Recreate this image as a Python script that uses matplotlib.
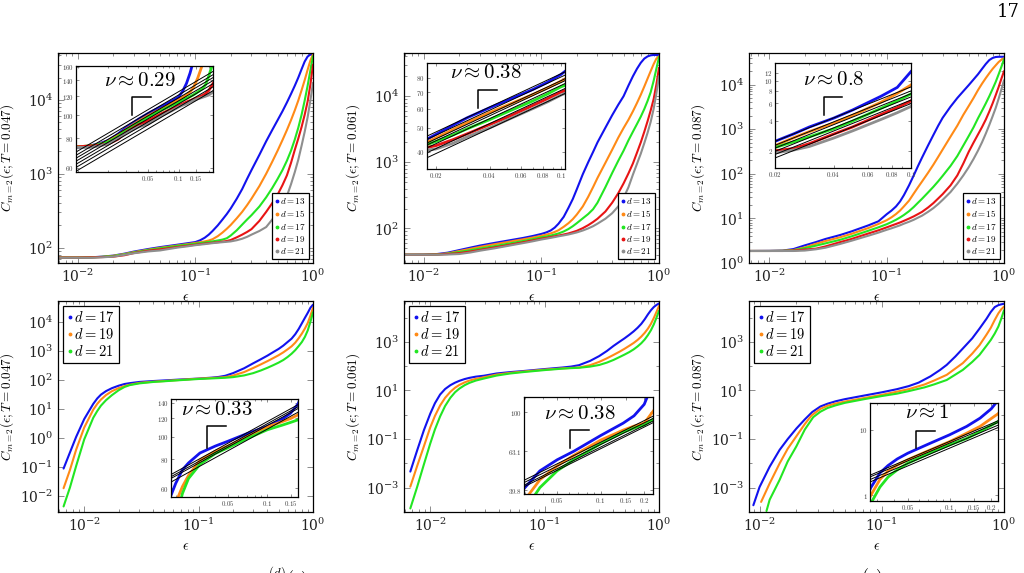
import matplotlib
matplotlib.use("Agg")
import matplotlib.pyplot as plt
from matplotlib import ticker
from matplotlib.lines import Line2D
import numpy as np

plt.rcParams["mathtext.fontset"] = "cm"
plt.rcParams["font.family"] = ["DejaVu Serif"]

# --- data ---
EPS_TOP = [0.0068, 0.01, 0.013, 0.016, 0.02, 0.025, 0.03, 0.04, 0.05, 0.07, 0.085, 0.1, 0.11, 0.12,
           0.13, 0.14, 0.155, 0.17, 0.185, 0.2, 0.225, 0.25, 0.275, 0.3, 0.35, 0.4, 0.45, 0.5,
           0.55, 0.6, 0.65, 0.7, 0.75, 0.8, 0.85, 0.9, 0.95, 1.0]
D_TOP = [13, 15, 17, 19, 21]
D_BOT = [17, 19, 21]

# T = 0.047, top
A13 = [73, 73, 74, 75.5, 78, 83, 88.5, 96, 101.6, 109.5, 114.5, 119, 126, 136, 150, 168, 200, 240, 285, 340,
       460, 620, 850, 1120, 1800, 2750, 3900, 5300, 7000, 9200, 12000, 15500, 20000, 26000, 33000, 38500, 41000, 42000]
A15 = [73.5, 73.5, 74, 75, 77.5, 82, 87, 94, 99.4, 107, 111.5, 115.7, 118.5, 121.5, 125, 130, 143, 160, 180, 203,
       250, 305, 375, 460, 680, 1000, 1450, 2050, 2850, 3900, 5300, 7200, 9800, 13500, 18500, 25500, 34000, 41000]
A17 = [73.5, 73.5, 74, 75, 77, 81, 86, 93, 97.8, 105.5, 109.5, 113, 115.5, 117.5, 119.5, 121.5, 125, 128.5, 134, 146,
       172, 205, 240, 275, 360, 480, 640, 850, 1120, 1500, 2050, 2900, 4200, 6300, 9800, 15500, 25000, 39000]
A19 = [73.5, 73.5, 74, 74.5, 75.5, 79, 84.5, 91, 94.7, 102, 106, 109.5, 111.5, 113.5, 115, 116.5, 118.5, 120.5, 123, 127,
       138, 150, 163, 178, 230, 305, 400, 520, 700, 950, 1400, 2100, 3000, 4300, 6300, 9500, 16000, 30000]
A21 = [73, 73, 73, 74, 75.5, 80, 84, 89, 91.6, 100, 104, 108, 110, 111.5, 113.5, 115, 117, 118.5, 120, 121.5,
       126, 132, 140, 150, 168, 190, 240, 300, 380, 500, 720, 1050, 1550, 2400, 3700, 5800, 9800, 17000]

# T = 0.061, top
B13 = [40, 40.2, 41, 43, 47, 51.3, 55, 60.4, 64.7, 71.8, 77, 82.5, 87, 93, 103, 118, 150, 205, 278, 390,
       660, 1000, 1430, 2000, 3330, 5160, 7400, 10000, 14500, 20000, 26000, 32000, 37000, 40000, 41500, 42000, 42000, 42000]
B15 = [40, 40, 40.5, 42, 45.5, 49.2, 52.5, 57.7, 61.8, 68.5, 73, 77.5, 80.5, 84, 88.5, 94, 106, 120, 138, 162,
       215, 300, 420, 580, 980, 1550, 2350, 3300, 4400, 5900, 7900, 10500, 14000, 18500, 24000, 30500, 37000, 40000]
B17 = [40, 40, 40.3, 41.5, 44, 46.8, 49.6, 54, 58, 64.5, 69, 73.5, 75.5, 78, 81, 84, 90, 98, 108, 120,
       142, 165, 195, 245, 420, 690, 1050, 1500, 2150, 2900, 3800, 4900, 6400, 8500, 11500, 17000, 26000, 39000]
B19 = [40, 40, 40.2, 41, 42.3, 44.8, 47.3, 51.6, 55.2, 61.8, 66, 70, 72, 74, 76, 78, 81, 84, 88, 92,
       101, 112, 125, 140, 180, 245, 340, 480, 680, 960, 1400, 2000, 2900, 4200, 6100, 9000, 15000, 27000]
B21 = [40, 40, 40, 40.3, 41, 43.3, 46, 50, 53.8, 60, 64, 68, 70, 72, 74, 76, 78.5, 81, 84, 87,
       93, 100, 108, 118, 140, 170, 215, 290, 420, 650, 950, 1350, 1950, 2800, 4100, 6400, 11000, 20000]

# T = 0.087, top
C13 = [1.86, 1.87, 1.9, 2.05, 2.48, 2.95, 3.45, 4.23, 5.1, 7.0, 8.6, 12.4, 15, 18.5, 24, 33, 55, 92, 150, 230,
       430, 740, 1200, 1800, 3200, 5000, 7100, 9700, 13000, 17000, 22500, 29000, 35500, 39500, 41500, 42000, 42000, 42000]
C15 = [1.86, 1.86, 1.88, 1.95, 2.24, 2.7, 3.1, 3.77, 4.5, 6.1, 7.5, 9.1, 10.6, 12.5, 15, 18.5, 25, 36, 50, 67,
       105, 160, 240, 350, 680, 1200, 2100, 3300, 5000, 7500, 10500, 14000, 18000, 22500, 27000, 32000, 36000, 38500]
C17 = [1.86, 1.86, 1.87, 1.92, 2.15, 2.45, 2.75, 3.31, 3.95, 5.3, 6.3, 7.4, 8.3, 9.3, 10.5, 11.9, 14.5, 18, 22.5, 27.5,
       38, 51, 68, 90, 150, 250, 430, 700, 1100, 1750, 2600, 3800, 5500, 8000, 11500, 17000, 25000, 37000]
C19 = [1.86, 1.86, 1.86, 1.9, 2.0, 2.1, 2.35, 2.93, 3.45, 4.6, 5.4, 6.3, 6.9, 7.5, 8.1, 8.8, 9.9, 11.1, 12.5, 14,
       17.5, 22, 28, 35, 55, 92, 170, 310, 500, 760, 1120, 1650, 2500, 3800, 5800, 8800, 13500, 20000]
C21 = [1.86, 1.86, 1.86, 1.86, 1.9, 2.03, 2.2, 2.67, 3.15, 4.1, 4.8, 5.55, 6.0, 6.5, 7.0, 7.6, 8.4, 9.3, 10.4, 11.5,
       14, 17, 21, 26, 39, 60, 92, 140, 215, 330, 510, 800, 1250, 1950, 3000, 4800, 7800, 12500]

# T = 0.047, bottom
D_X = [0.0066, 0.0075, 0.0085, 0.01, 0.012, 0.013, 0.014, 0.0155, 0.0175, 0.02, 0.0225, 0.025, 0.0306, 0.04,
       0.05, 0.07, 0.1, 0.13, 0.15, 0.171, 0.2, 0.25, 0.3, 0.35, 0.4, 0.45, 0.5, 0.55, 0.6, 0.65, 0.7, 0.75,
       0.8, 0.85, 0.9, 0.95, 1.0]
D17_Y = [0.09, 0.32, 1.1, 4.5, 15, 23, 31, 41, 52, 63, 72, 77, 85, 91, 95.5, 103, 110.7, 119, 126, 138,
         170, 250, 370, 510, 680, 900, 1150, 1500, 2000, 2600, 3700, 5600, 8800, 13500, 20000, 30000, 38000]
D19_Y = [0.019, 0.08, 0.4, 2.3, 9.5, 15, 21, 30, 41, 52, 61, 68, 79, 86.5, 91, 100, 110, 116, 119.5, 124,
         140, 185, 255, 340, 440, 560, 700, 880, 1120, 1420, 1900, 2700, 3900, 5800, 9000, 16000, 30000]
D21_Y = [0.0045, 0.02, 0.11, 0.9, 5, 8.5, 13, 20, 30, 44, 57, 66, 76, 84.5, 89.5, 98, 107, 112, 115, 118,
         124, 142, 170, 210, 260, 320, 390, 480, 610, 790, 1050, 1450, 2000, 3000, 5000, 10000, 21000]

# T = 0.061, bottom
E_X = [0.0067, 0.0077, 0.0088, 0.01, 0.011, 0.0122, 0.0135, 0.015, 0.0165, 0.018, 0.02, 0.022, 0.025, 0.0295,
       0.038, 0.05, 0.065, 0.1, 0.143, 0.17, 0.2, 0.25, 0.3, 0.35, 0.4, 0.45, 0.5, 0.55, 0.6, 0.65, 0.7, 0.75,
       0.8, 0.85, 0.9, 0.95, 1.0]
E17_Y = [0.0046, 0.035, 0.23, 1.1, 3.0, 6.8, 11.5, 16.5, 21, 25, 29.5, 33, 37, 40.5, 50, 57, 63, 76, 88, 96,
         110, 165, 260, 420, 680, 1000, 1400, 1950, 2700, 3800, 5500, 8500, 13500, 20000, 27000, 33000, 38000]
E19_Y = [0.0011, 0.008, 0.05, 0.3, 0.9, 2.4, 5, 8.8, 13, 17, 21.5, 25.5, 30, 35, 45, 53, 60, 72, 81, 85,
         88, 110, 150, 210, 290, 390, 520, 690, 900, 1200, 1650, 2350, 3500, 5500, 9500, 17000, 30000]
E21_Y = [1.4e-4, 1.1e-3, 0.009, 0.065, 0.25, 0.85, 2.3, 5, 8.5, 12, 16.5, 20.5, 25.5, 31, 41, 50, 57, 69, 79, 83,
         86, 96, 112, 140, 180, 235, 300, 380, 490, 650, 880, 1250, 1900, 3000, 5200, 9800, 19000]

# T = 0.087, bottom
F17_X = [0.0089, 0.01, 0.0121, 0.0146, 0.017, 0.02, 0.0235, 0.027, 0.0315, 0.036, 0.042, 0.05, 0.072, 0.1,
         0.133, 0.166, 0.2, 0.25, 0.3, 0.34, 0.4, 0.46, 0.55, 0.63, 0.72, 0.78, 0.84, 0.9, 0.95, 1.0]
F17_Y = [1.9e-4, 1.06e-3, 0.0073, 0.036, 0.1, 0.27, 0.65, 1.3, 2.2, 2.85, 3.6, 4.4, 6.2, 8.4, 11.3, 15.1,
         21, 38, 70, 113, 250, 530, 1400, 3500, 9000, 17000, 27000, 32500, 35000, 37000]
F19_X = [0.0103, 0.0121, 0.0146, 0.017, 0.02, 0.0235, 0.0267, 0.0315, 0.036, 0.042, 0.05, 0.072, 0.1, 0.133,
         0.166, 0.2235, 0.27, 0.34, 0.4, 0.46, 0.55, 0.63, 0.72, 0.78, 0.84, 0.9, 0.95, 1.0]
F19_Y = [2.6e-4, 1.5e-3, 0.01, 0.04, 0.13, 0.42, 0.95, 1.75, 2.35, 2.9, 3.5, 4.9, 6.6, 8.9, 11.3, 17.6,
         26, 44, 80, 133, 330, 730, 2000, 3800, 8000, 15000, 22000, 28000]
F21_X = [0.0114, 0.0121, 0.0146, 0.017, 0.02, 0.0235, 0.0275, 0.0315, 0.036, 0.042, 0.05, 0.072, 0.1, 0.133,
         0.166, 0.2235, 0.27, 0.34, 0.4, 0.46, 0.55, 0.63, 0.72, 0.78, 0.84, 0.9, 0.95, 1.0]
F21_Y = [1.1e-4, 3.2e-4, 0.0021, 0.012, 0.05, 0.25, 0.8, 1.34, 1.9, 2.45, 3.1, 4.4, 5.9, 7.4, 9.4, 13.4,
         18, 27, 45, 70, 150, 290, 700, 1200, 2200, 4300, 9000, 20000]

# power-law fit lines in the insets: amplitudes and exponent
FIT_A = [185, 192, 198, 204, 210, 216, 223]
FIT_B = [181.8, 176.3, 170.4, 167.3, 162.9, 155.5, 148.4]
FIT_C = [52.4, 47.8, 44.8, 41.6, 38.7, 35.7]
FIT_D = [237, 232, 228, 220]
FIT_E = [164.6, 160.2, 155.4, 152.4]
FIT_F = [52.9, 49.8, 45.4, 41.7]
SLOPES = [0.25, 0.34, 0.78, 0.31, 0.37, 0.9]
NU_LABELS = ["0.29", "0.38", "0.8", "0.33", "0.38", "1"]
TEMPS = ["0.047", "0.061", "0.087", "0.047", "0.061", "0.087"]

# --- style ---
W, H = 1024, 573
COLORS = ["#1212ee", "#ff8a16", "#22e622", "#e81414", "#8e8e8e"]
TICK_COLOR = "#7a7a7a"


def px_rect(l, r, t, b):
    return [l / W, 1 - b / H, (r - l) / W, (b - t) / H]


PANELS = [
    dict(rect=px_rect(58, 313, 53, 263), inset=px_rect(76, 213, 66, 172),
         curves=[(EPS_TOP, A13), (EPS_TOP, A15), (EPS_TOP, A17), (EPS_TOP, A19), (EPS_TOP, A21)],
         ds=D_TOP, xlim=(0.0068, 1.0), ylim=(62, 43000), yticks=[1e2, 1e3, 1e4], yminor="sub",
         ixlim=(0.0096, 0.22), iylim=(57.5, 161), ixt=[0.05, 0.1, 0.15], iyt=[60, 80, 100, 120, 140, 160],
         iyl=None, fits=FIT_A, gamma=(0.41, 0.55, 0.71, 0.54), nupos=(0.47, 0.86)),
    dict(rect=px_rect(404, 659, 53, 263), inset=px_rect(427, 565, 63, 169),
         curves=[(EPS_TOP, B13), (EPS_TOP, B15), (EPS_TOP, B17), (EPS_TOP, B19), (EPS_TOP, B21)],
         ds=D_TOP, xlim=(0.0068, 1.0), ylim=(30, 45000), yticks=[1e2, 1e3, 1e4], yminor="sub",
         ixlim=(0.0179, 0.1056), iylim=(34, 92), ixt=[0.02, 0.04, 0.06, 0.08, 0.1], iyt=[40, 50, 60, 70, 80],
         iyl=None, fits=FIT_B, gamma=(0.372, 0.505, 0.748, 0.575), nupos=(0.43, 0.91)),
    dict(rect=px_rect(749, 1004, 53, 263), inset=px_rect(775, 911, 63, 168),
         curves=[(EPS_TOP, C13), (EPS_TOP, C15), (EPS_TOP, C17), (EPS_TOP, C19), (EPS_TOP, C21)],
         ds=D_TOP, xlim=(0.0067, 1.0), ylim=(1.0, 51000), yticks=[1, 1e1, 1e2, 1e3, 1e4], yminor="sub",
         ixlim=(0.02, 0.1), iylim=(1.34, 15.1), ixt=[0.02, 0.04, 0.06, 0.08, 0.1], iyt=[2, 4, 6, 8, 10, 12],
         iyl=None, fits=FIT_C, gamma=(0.36, 0.49, 0.673, 0.508), nupos=(0.43, 0.84)),
    dict(rect=px_rect(58, 313, 301, 512), inset=px_rect(171, 298, 399, 497),
         curves=[(D_X, D17_Y), (D_X, D19_Y), (D_X, D21_Y)],
         ds=D_BOT, xlim=(0.0059, 1.0), ylim=(0.0029, 51000),
         yticks=[1e-2, 1e-1, 1, 1e1, 1e2, 1e3, 1e4], yminor="dec",
         ixlim=(0.0184, 0.171), iylim=(55, 145), ixt=[0.05, 0.1, 0.15], iyt=[60, 80, 100, 120, 140],
         iyl=None, fits=FIT_D, gamma=(0.287, 0.433, 0.72, 0.50), nupos=(0.36, 0.89)),
    dict(rect=px_rect(404, 659, 301, 512), inset=px_rect(524, 653, 397, 494),
         curves=[(E_X, E17_Y), (E_X, E19_Y), (E_X, E21_Y)],
         ds=D_BOT, xlim=(0.0059, 1.0), ylim=(1e-4, 48000), yticks=[1e-3, 1e-1, 1e1, 1e3], yminor="dec",
         ixlim=(0.0295, 0.23), iylim=(38, 120), ixt=[0.05, 0.1, 0.15, 0.2], iyt=[39.8, 63.1, 100],
         iyl=["39.8", "63.1", "100"], fits=FIT_E, gamma=(0.356, 0.506, 0.655, 0.472), nupos=(0.434, 0.834)),
    dict(rect=px_rect(749, 1004, 301, 512), inset=px_rect(870, 998, 403, 501),
         curves=[(F17_X, F17_Y), (F19_X, F19_Y), (F21_X, F21_Y)],
         ds=D_BOT, xlim=(0.0082, 1.0), ylim=(1e-4, 48000), yticks=[1e-3, 1e-1, 1e1, 1e3], yminor="dec",
         ixlim=(0.0267, 0.2235), iylim=(0.82, 25.7), ixt=[0.05, 0.1, 0.15, 0.2], iyt=[1, 10],
         iyl=None, fits=FIT_F, gamma=(0.36, 0.509, 0.719, 0.538), nupos=(0.444, 0.907)),
]


def style_common(ax, labelsize, major_len, minor_len):
    ax.tick_params(which="both", direction="in", top=True, right=True,
                   color=TICK_COLOR, labelcolor="#222222", width=0.6)
    ax.tick_params(which="major", length=major_len, labelsize=labelsize)
    ax.tick_params(which="minor", length=minor_len)
    for sp in ax.spines.values():
        sp.set_linewidth(0.9)
        sp.set_color("black")


fig = plt.figure(figsize=(W / 100, H / 100), dpi=100)

for i, p in enumerate(PANELS):
    ax = fig.add_axes(p["rect"])
    ax.set_xscale("log")
    ax.set_yscale("log")
    for (x, y), c in zip(p["curves"], COLORS):
        ax.plot(x, y, color=c, lw=1.5, solid_capstyle="round", solid_joinstyle="round")
    ax.set_xlim(*p["xlim"])
    ax.set_ylim(*p["ylim"])
    ax.xaxis.set_major_locator(ticker.FixedLocator([1e-2, 1e-1, 1.0]))
    ax.xaxis.set_major_formatter(ticker.LogFormatterMathtext())
    ax.xaxis.set_minor_locator(ticker.LogLocator(base=10, subs=np.arange(2, 10), numticks=20))
    ax.xaxis.set_minor_formatter(ticker.NullFormatter())
    ax.yaxis.set_major_locator(ticker.FixedLocator(p["yticks"]))
    ax.yaxis.set_major_formatter(ticker.LogFormatterMathtext())
    if p["yminor"] == "sub":
        ax.yaxis.set_minor_locator(ticker.LogLocator(base=10, subs=np.arange(2, 10), numticks=20))
    else:
        ax.yaxis.set_minor_locator(ticker.LogLocator(base=10, subs=(1.0,), numticks=20))
    ax.yaxis.set_minor_formatter(ticker.NullFormatter())
    style_common(ax, 10, 4, 2)
    ax.set_xlabel(r"$\epsilon$", fontsize=10)
    ax.xaxis.set_label_coords(0.5, -0.13)
    ax.set_ylabel(r"$C_{m=2}(\epsilon;T=%s)$" % TEMPS[i], fontsize=9.5)
    ax.yaxis.set_label_coords(-0.165, 0.5)

    handles = [Line2D([], [], ls="none", marker=".", ms=3.5, color=c) for c in COLORS[:len(p["ds"])]]
    labels = [r"$d=%d$" % d for d in p["ds"]]
    if len(p["ds"]) == 5:
        leg = ax.legend(handles, labels, loc="lower right", fontsize=6.5, handlelength=0.4,
                        handletextpad=0.2, borderpad=0.35, labelspacing=0.25, borderaxespad=0.4,
                        fancybox=False, framealpha=1, edgecolor="black")
    else:
        leg = ax.legend(handles, labels, loc="upper left", fontsize=10.5, handlelength=0.3,
                        handletextpad=0.15, borderpad=0.3, labelspacing=0.12, borderaxespad=0.35,
                        fancybox=False, framealpha=1, edgecolor="black")
    leg.get_frame().set_linewidth(0.9)

    # inset
    ia = fig.add_axes(p["inset"])
    ia.set_xscale("log")
    ia.set_yscale("log")
    for (x, y), c in zip(p["curves"], COLORS):
        ia.plot(x, y, color=c, lw=2.0, solid_capstyle="round", solid_joinstyle="round")
    xf = np.array(p["ixlim"])
    for amp in p["fits"]:
        ia.plot(xf, amp * xf ** SLOPES[i], color="black", lw=0.7, zorder=4)
    ia.set_xlim(*p["ixlim"])
    ia.set_ylim(*p["iylim"])
    ia.xaxis.set_major_locator(ticker.FixedLocator(p["ixt"]))
    ia.xaxis.set_major_formatter(ticker.FixedFormatter(["$%g$" % v for v in p["ixt"]]))
    ia.xaxis.set_minor_locator(ticker.LogLocator(base=10, subs=np.arange(1, 10), numticks=20))
    ia.xaxis.set_minor_formatter(ticker.NullFormatter())
    ia.yaxis.set_major_locator(ticker.FixedLocator(p["iyt"]))
    ylabels = p["iyl"] if p["iyl"] else ["%g" % v for v in p["iyt"]]
    ia.yaxis.set_major_formatter(ticker.FixedFormatter(["$%s$" % s for s in ylabels]))
    ia.yaxis.set_minor_locator(ticker.NullLocator())
    style_common(ia, 5, 2.5, 1.5)
    ia.tick_params(which="major", pad=1.5, labelcolor="#444444")

    x0, x1, yt, yb = p["gamma"]
    ia.plot([x0, x0, x1], [yb, yt, yt], transform=ia.transAxes, color="black", lw=1.1, zorder=5)
    ia.text(p["nupos"][0], p["nupos"][1], r"$\nu{\approx}%s$" % NU_LABELS[i], transform=ia.transAxes,
            ha="center", va="center", fontsize=15, zorder=6)

# page number and cut caption fragments
fig.text(1008 / W, 1 - 12 / H, "17", ha="center", va="center", fontsize=13, family="DejaVu Serif")
fig.text(268 / W, 1 - 565 / H, r"$^{(d)}(\epsilon)$", ha="left", va="top", fontsize=13)
fig.text(861 / W, 1 - 566 / H, r"$(\epsilon)$", ha="left", va="top", fontsize=13)

fig.savefig("out.png", dpi=100)
